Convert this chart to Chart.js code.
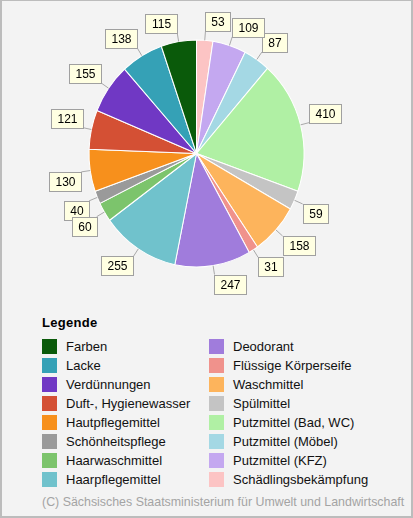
<!DOCTYPE html>
<html>
<head>
<meta charset="utf-8">
<script src="https://cdn.jsdelivr.net/npm/chart.js@4/dist/chart.umd.min.js"></script>
<style>
  html, body { margin: 0; padding: 0; }
  body { width: 413px; height: 518px; position: relative; overflow: hidden; background: #f3f3f3; font-family: "Liberation Sans", Arial, sans-serif; }
  #frame { position: absolute; left: 0; top: 0; width: 413px; height: 518px; box-sizing: border-box;
           border-top: 1px solid #bcbcbc; border-left: 2px solid #bcbcbc; border-right: 2px solid #bcbcbc; border-bottom: 2px solid #bcbcbc; }
  #chart { position: absolute; left: 0; top: 0; }
  #legendTitle { position: absolute; left: 42px; top: 314px; font-size: 13px; font-weight: bold; line-height: 18px; color: #000; letter-spacing: 0.3px; }
  .row { position: absolute; height: 19px; line-height: 19px; font-size: 13px; color: #111; white-space: nowrap; }
  .sw { position: absolute; left: 0; top: 2px; width: 15px; height: 15px; }
  .tx { position: absolute; left: 24px; top: 0; }
  #copy { position: absolute; left: 42px; top: 493px; font-size: 12.4px; line-height: 18px; color: #a4a4a4; white-space: nowrap; }
</style>
</head>
<body>
<div id="frame"></div>
<canvas id="chart" width="413" height="300"></canvas>
<div id="legendTitle">Legende</div>
<div id="legend"></div>
<div id="copy">(C) Sächsisches Staatsministerium für Umwelt und Landwirtschaft</div>
<script>
const categories = ["Farben", "Lacke", "Verdünnungen", "Duft-, Hygienewasser", "Hautpflegemittel",
  "Schönheitspflege", "Haarwaschmittel", "Haarpflegemittel", "Deodorant", "Flüssige Körperseife",
  "Waschmittel", "Spülmittel", "Putzmittel (Bad, WC)", "Putzmittel (Möbel)", "Putzmittel (KFZ)",
  "Schädlingsbekämpfung"];
const values = [115, 138, 155, 121, 130, 40, 60, 255, 247, 31, 158, 59, 410, 87, 109, 53];
const colors = ["#0a5a0a", "#35a1b6", "#7038c4", "#d45034", "#f7901c", "#9a9a9a", "#7cc46c",
  "#70c2cc", "#a07cdc", "#f0928c", "#fdb45c", "#c4c4c4", "#b0f0a4", "#a4d8e4", "#c4a8f0", "#fcc4c4"];

// Geometry of the pie (page pixels)
const CX = 196.5, CY = 153.5, RX = 107.5, RY = 113.5;
const YSCALE = RY / RX;

// Legend (two columns, column-major)
const legend = document.getElementById('legend');
const perCol = 8;
categories.forEach((c, i) => {
  const col = Math.floor(i / perCol), r = i % perCol;
  const row = document.createElement('div');
  row.className = 'row';
  row.style.left = (col === 0 ? 42 : 209) + 'px';
  row.style.top = (337 + r * 19) + 'px';
  const sw = document.createElement('div');
  sw.className = 'sw';
  sw.style.background = colors[i];
  const tx = document.createElement('div');
  tx.className = 'tx';
  tx.textContent = c;
  row.appendChild(sw); row.appendChild(tx);
  legend.appendChild(row);
});

// Pie is drawn counter-clockwise in the original: reverse order for Chart.js
const n = values.length;
const revValues = values.slice().reverse();
const revColors = colors.slice().reverse();
const revLabels = categories.slice().reverse();

const ellipse = {
  id: 'ellipse',
  beforeDatasetsDraw(chart) {
    const ctx = chart.ctx;
    ctx.save();
    ctx.translate(CX, CY);
    ctx.scale(1, YSCALE);
    ctx.translate(-CX, -CY);
  },
  afterDatasetsDraw(chart) {
    chart.ctx.restore();
  }
};

const boxLabels = {
  id: 'boxLabels',
  afterDraw(chart) {
    const ctx = chart.ctx;
    const meta = chart.getDatasetMeta(0);
    const LEN = 9;
    ctx.save();
    ctx.font = '12px "Liberation Sans", Arial, sans-serif';
    ctx.textAlign = 'center';
    ctx.textBaseline = 'middle';
    const items = [];
    for (let i = 0; i < n; i++) {
      const arc = meta.data[n - 1 - i];
      const mid = (arc.startAngle + arc.endAngle) / 2;
      const c = Math.cos(mid), s = Math.sin(mid);
      const x1 = CX + RX * c, y1 = CY + RY * s;
      const x2 = CX + (RX + LEN) * c, y2 = CY + (RY + LEN) * s;
      const txt = String(values[i]);
      const w = txt.length >= 3 ? 32 : 25, h = 19;
      const bx = c >= 0 ? x2 : x2 - w;
      const by = s >= 0 ? y2 : y2 - h;
      items.push({x1, y1, x2, y2, bx, by, w, h, txt});
    }
    items.forEach(it => {
      ctx.strokeStyle = '#a8a8a8';
      ctx.lineWidth = 1;
      ctx.beginPath();
      ctx.moveTo(it.x1, it.y1);
      ctx.lineTo(it.x2, it.y2);
      ctx.stroke();
      const bx = Math.round(it.bx) + 0.5, by = Math.round(it.by) + 0.5;
      ctx.fillStyle = '#ffffe2';
      ctx.fillRect(bx, by, it.w, it.h);
      ctx.strokeStyle = '#a0a0a0';
      ctx.strokeRect(bx, by, it.w, it.h);
      ctx.fillStyle = '#000';
      ctx.fillText(it.txt, bx + it.w / 2, by + it.h / 2 + 0.5);
    });
    ctx.restore();
  }
};

new Chart(document.getElementById('chart'), {
  type: 'pie',
  data: {
    labels: revLabels,
    datasets: [{
      data: revValues,
      backgroundColor: revColors,
      borderColor: '#ffffff',
      borderWidth: 1,
      radius: RX
    }]
  },
  options: {
    responsive: false,
    animation: false,
    rotation: 0,
    layout: { padding: { left: 89, right: 109, top: 46, bottom: 39 } },
    plugins: { legend: { display: false }, tooltip: { enabled: false } }
  },
  plugins: [ellipse, boxLabels]
});
</script>
</body>
</html>
